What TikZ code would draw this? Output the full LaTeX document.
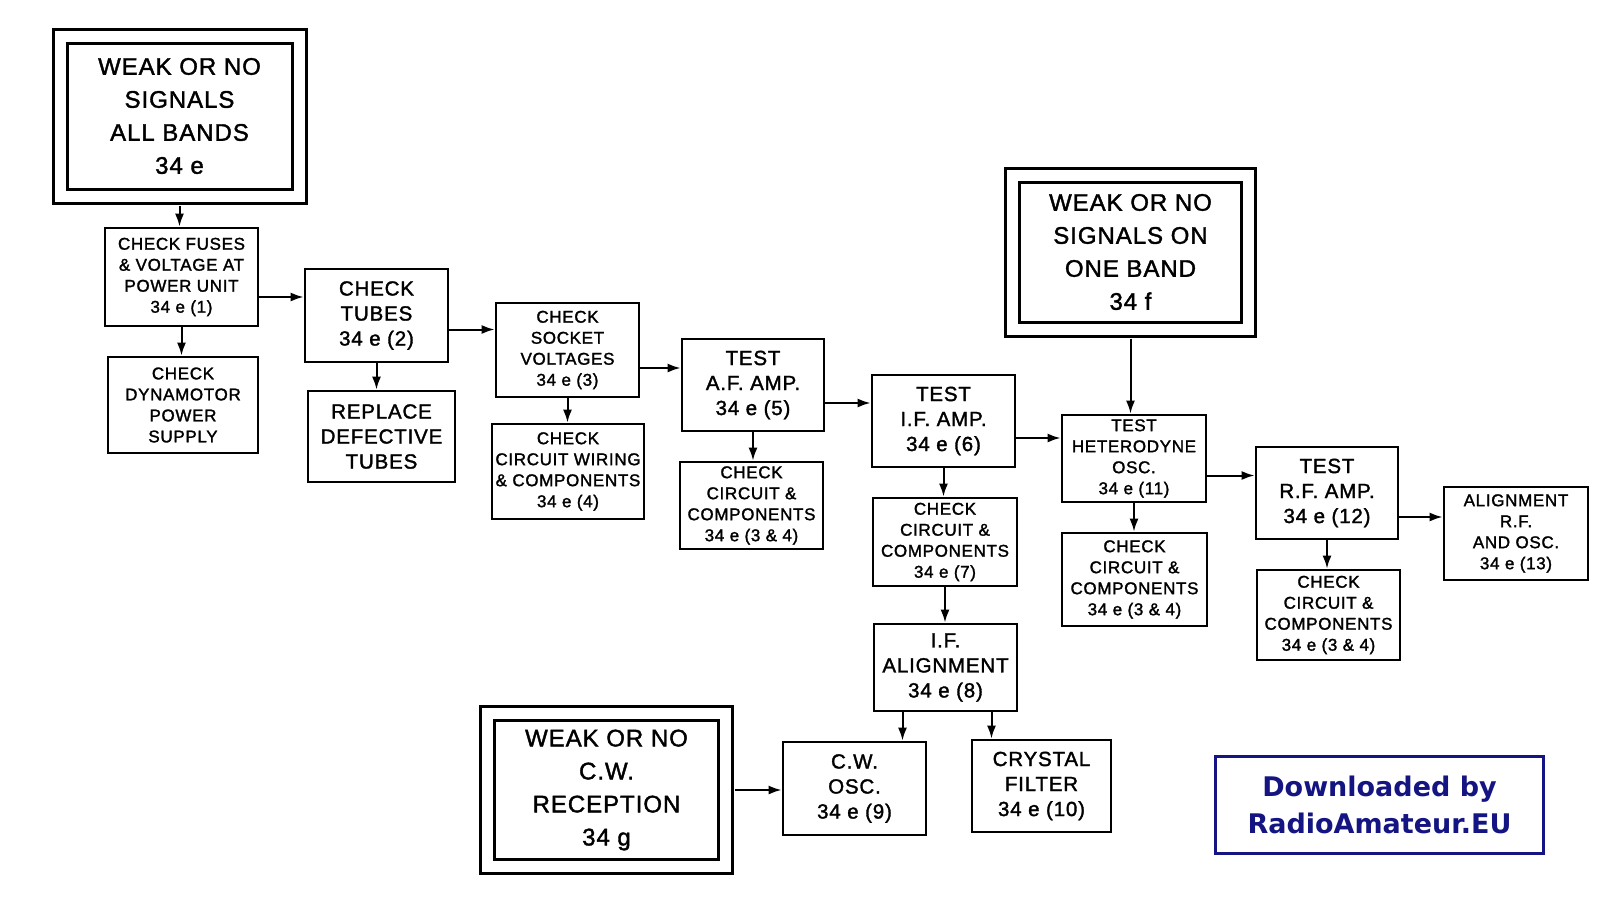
\documentclass[tikz,border=0pt]{standalone}
\usepackage{fontspec}
\setmainfont{Liberation Sans}
\newfontfamily\letterfont[LetterSpace=4,FakeBold=1.6]{Liberation Sans}
\newfontfamily\wmfont{DejaVu Sans}
\usetikzlibrary{arrows.meta}
\definecolor{navy}{RGB}{20,20,130}

\begin{document}
\begin{tikzpicture}[x=1pt,y=-1pt,
	box/.style={draw,line width=2.8pt,align=center,inner sep=1pt},
	boxb/.style={box,font=\letterfont\fontsize{20.5}{25}\selectfont},
	boxc/.style={box,font=\letterfont\fontsize{17}{21}\selectfont},
	alarm/.style={draw,line width=3pt,double=white,double distance=11pt,align=center,
		font=\letterfont\fontsize{24}{33}\selectfont},
	flow/.style={line width=2pt,-{Latex[length=13pt,width=9pt]}}]
			\fill[white] (0,0) rectangle (1600,900);
			\useasboundingbox (0,0) rectangle (1600,900);
			
			% fault symptoms
			\draw (179.5,116) node[alarm,minimum width=239,minimum height=160] (allb)
			{WEAK OR NO\\SIGNALS\\ALL BANDS\\34 e};
			\draw (1130.5,252) node[alarm,minimum width=236,minimum height=154] (oneb)
			{WEAK OR NO\\SIGNALS ON\\ONE BAND\\34 f};
			\draw (606.5,790) node[alarm,minimum width=238,minimum height=153] (cwrec)
			{WEAK OR NO\\C.W.\\RECEPTION\\34 g};
			
			% checks and tests
			\draw (181.5,277) node[boxc,minimum width=153,minimum height=98] (fuses)
			{CHECK FUSES\\\& VOLTAGE AT\\POWER UNIT\\34 e (1)};
			\draw (183,405) node[boxc,minimum width=150,minimum height=96] (dyn)
			{CHECK\\DYNAMOTOR\\POWER\\SUPPLY};
			\draw (376.5,315.5) node[boxb,minimum width=143,minimum height=93] (tubes)
			{CHECK\\TUBES\\34 e (2)};
			\draw (381.5,436.5) node[boxb,minimum width=147,minimum height=91] (repl)
			{REPLACE\\DEFECTIVE\\TUBES};
			\draw (567.5,350) node[boxc,minimum width=143,minimum height=94] (sock)
			{CHECK\\SOCKET\\VOLTAGES\\34 e (3)};
			\draw (568,471.5) node[boxc,minimum width=152,minimum height=95] (wiring)
			{CHECK\\CIRCUIT WIRING\\\& COMPONENTS\\34 e (4)};
			\draw (753,385) node[boxb,minimum width=142,minimum height=92] (afamp)
			{TEST\\A.F. AMP.\\34 e (5)};
			\draw (751.5,505.5) node[boxc,minimum width=143,minimum height=87] (afcirc)
			{CHECK\\CIRCUIT \&\\COMPONENTS\\34 e (3 \& 4)};
			\draw (943.5,421) node[boxb,minimum width=143,minimum height=92] (ifamp)
			{TEST\\I.F. AMP.\\34 e (6)};
			\draw (945,542) node[boxc,minimum width=144,minimum height=88] (ifcirc)
			{CHECK\\CIRCUIT \&\\COMPONENTS\\34 e (7)};
			\draw (945.5,667.5) node[boxb,minimum width=143,minimum height=87] (ifalign)
			{I.F.\\ALIGNMENT\\34 e (8)};
			\draw (854.5,788.5) node[boxb,minimum width=143,minimum height=93] (cwosc)
			{C.W.\\OSC.\\34 e (9)};
			\draw (1041.5,786) node[boxb,minimum width=139,minimum height=92] (crystal)
			{CRYSTAL\\FILTER\\34 e (10)};
			\draw (1134,458.5) node[boxc,minimum width=144,minimum height=87] (het)
			{TEST\\HETERODYNE\\OSC.\\34 e (11)};
			\draw (1134.5,579.5) node[boxc,minimum width=145,minimum height=93] (hetcirc)
			{CHECK\\CIRCUIT \&\\COMPONENTS\\34 e (3 \& 4)};
			\draw (1327,493) node[boxb,minimum width=142,minimum height=92] (rfamp)
			{TEST\\R.F. AMP.\\34 e (12)};
			\draw (1328.5,615) node[boxc,minimum width=143,minimum height=90] (rfcirc)
			{CHECK\\CIRCUIT \&\\COMPONENTS\\34 e (3 \& 4)};
			\draw (1516,533.5) node[boxc,minimum width=144,minimum height=93] (align)
			{ALIGNMENT\\R.F.\\AND OSC.\\34 e (13)};
			
			% connectors
			\draw[flow,shorten <=8pt] (allb.south) -- (allb.south |- fuses.north);
			\draw[flow] (fuses.south) -- (fuses.south |- dyn.north);
			\draw[flow] ([yshift=-20pt]fuses.east) -- ([yshift=-20pt]fuses.east -| tubes.west);
			\draw[flow] (tubes.south) -- (tubes.south |- repl.north);
			\draw[flow] ([yshift=-14pt]tubes.east) -- ([yshift=-14pt]tubes.east -| sock.west);
			\draw[flow] (sock.south) -- (sock.south |- wiring.north);
			\draw[flow] ([yshift=-18pt]sock.east) -- ([yshift=-18pt]sock.east -| afamp.west);
			\draw[flow] (afamp.south) -- (afamp.south |- afcirc.north);
			\draw[flow] ([yshift=-18pt]afamp.east) -- ([yshift=-18pt]afamp.east -| ifamp.west);
			\draw[flow] (ifamp.south) -- (ifamp.south |- ifcirc.north);
			\draw[flow] (ifcirc.south) -- (ifcirc.south |- ifalign.north);
			\draw[flow] ([xshift=-43pt]ifalign.south) -- ([xshift=-43pt]ifalign.south |- cwosc.north);
			\draw[flow] ([xshift=46pt]ifalign.south) -- ([xshift=46pt]ifalign.south |- crystal.north);
			\draw[flow,shorten <=8pt] (cwrec.east) -- (cwrec.east -| cwosc.west);
			\draw[flow] ([yshift=-17pt]ifamp.east) -- ([yshift=-17pt]ifamp.east -| het.west);
			\draw[flow,shorten <=8pt] (oneb.south) -- (oneb.south |- het.north);
			\draw[flow] (het.south) -- (het.south |- hetcirc.north);
			\draw[flow] ([yshift=-17pt]het.east) -- ([yshift=-17pt]het.east -| rfamp.west);
			\draw[flow] (rfamp.south) -- (rfamp.south |- rfcirc.north);
			\draw[flow] ([yshift=-24pt]rfamp.east) -- ([yshift=-24pt]rfamp.east -| align.west);
			
			% download stamp
			\draw (1379.5,805) node[draw=navy,line width=3pt,text=navy,align=center,
			minimum width=328,minimum height=97,font=\wmfont\bfseries\fontsize{27}{37}\selectfont] (stamp)
			{Downloaded by\\RadioAmateur.EU};
\end{tikzpicture}
\end{document}
